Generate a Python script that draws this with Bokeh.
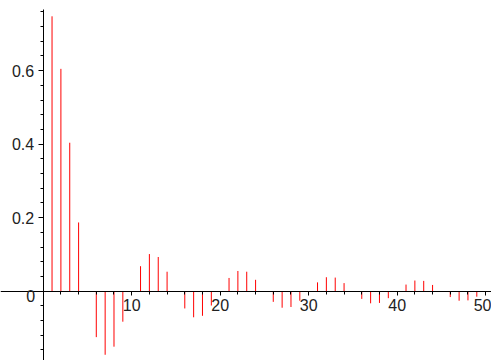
from bokeh.plotting import figure
from bokeh.models import FixedTicker, Label, Range1d
from bokeh.embed import file_html
from bokeh.resources import INLINE

# stem positions and values
n_values = list(range(1, 51))
y_values = [
    0.748, 0.605, 0.404, 0.187, 0.0, -0.125, -0.173, -0.151, -0.083, 0.0,
    0.068, 0.101, 0.093, 0.053, 0.0, -0.047, -0.071, -0.067, -0.039, 0.0,
    0.036, 0.055, 0.053, 0.031, 0.0, -0.029, -0.045, -0.043, -0.026, 0.0,
    0.024, 0.038, 0.037, 0.022, 0.0, -0.021, -0.033, -0.032, -0.019, 0.0,
    0.018, 0.029, 0.028, 0.017, 0.0, -0.016, -0.026, -0.025, -0.015, 0.0,
]
x_major_ticks = [10, 20, 30, 40, 50]
x_minor_ticks = [t for t in range(2, 51, 2) if t % 10 != 0]
y_major_ticks = [0.2, 0.4, 0.6]
y_minor_ticks = [-0.16, -0.12, -0.08, -0.04, 0.04, 0.08, 0.12, 0.16,
                 0.24, 0.28, 0.32, 0.36, 0.44, 0.48, 0.52, 0.56,
                 0.64, 0.68, 0.72, 0.76]

p = figure(width=491, height=360, output_backend="svg", toolbar_location=None,
           x_range=Range1d(-4.825, 50.66), y_range=Range1d(-0.1886, 0.791),
           min_border=0, min_border_left=0, min_border_right=0,
           min_border_top=0, min_border_bottom=0)
p.outline_line_color = None
p.grid.visible = False
p.background_fill_color = "white"
p.border_fill_color = "white"

zeros = [0.0] * len(n_values)
p.segment(x0=n_values, y0=zeros, x1=n_values, y1=y_values,
          line_color="#ff0000", line_width=1)

font = "Liberation Sans"
for ax in (p.xaxis[0], p.yaxis[0]):
    ax.fixed_location = 0
    ax.axis_line_color = "black"
    ax.axis_line_width = 1
    ax.major_tick_line_color = "black"
    ax.minor_tick_line_color = "black"
    ax.major_tick_in = 0
    ax.minor_tick_in = 0
    ax.major_label_text_font = font
    ax.major_label_text_font_size = "16px"
    ax.major_label_text_color = "#222222"

p.xaxis[0].ticker = FixedTicker(ticks=x_major_ticks, minor_ticks=x_minor_ticks)
p.xaxis[0].major_tick_out = 4
p.xaxis[0].minor_tick_out = 3
p.xaxis[0].major_label_standoff = 4
p.yaxis[0].ticker = FixedTicker(ticks=y_major_ticks, minor_ticks=y_minor_ticks)
p.yaxis[0].major_tick_out = 5
p.yaxis[0].minor_tick_out = 3
p.yaxis[0].major_label_standoff = 4
p.yaxis[0].bounds = (-0.1886, 0.767)

p.add_layout(Label(x=0, y=0, text="0", x_offset=-8, y_offset=1.5,
                   text_align="right", text_baseline="top",
                   text_font=font, text_font_size="16px", text_color="#222222"))

open("out.html", "w").write(file_html(p, INLINE))
